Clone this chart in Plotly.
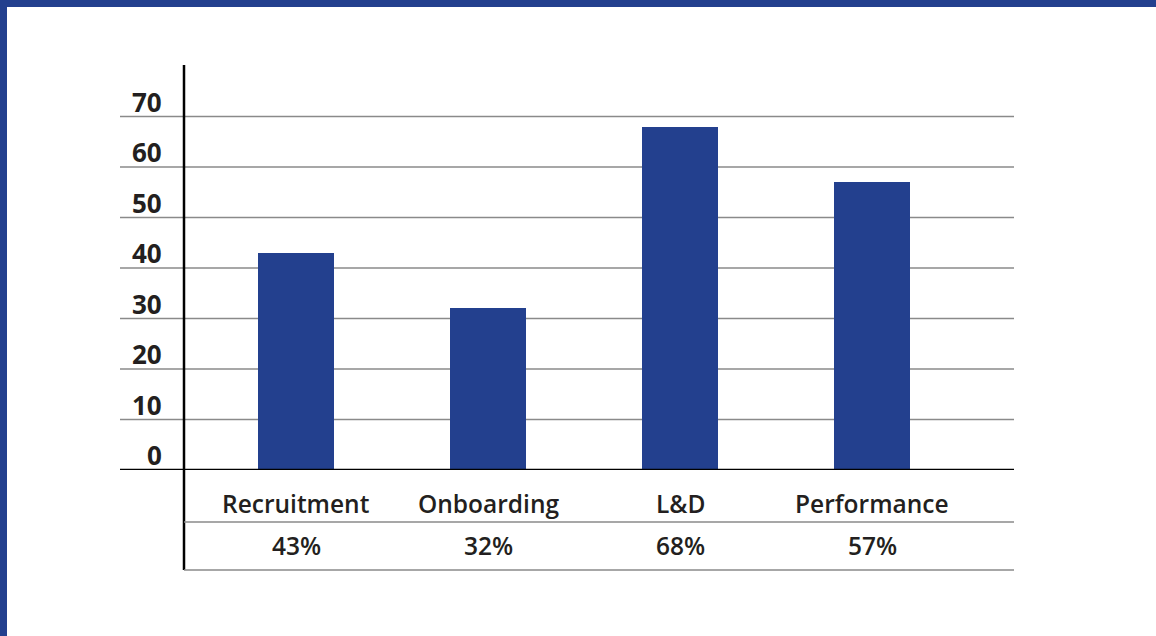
import plotly.graph_objects as go

categories = ["Recruitment", "Onboarding", "L&D", "Performance"]
values = [43, 32, 68, 57]
value_labels = ["43%", "32%", "68%", "57%"]
tick_values = [0, 10, 20, 30, 40, 50, 60, 70]
tick_labels = ["0", "10", "20", "30", "40", "50", "60", "70"]

BLUE = "#23408e"
TEXT = "#231f20"
GRID = "#8a8a8a"

W, H = 1156, 636
ML, MR, MT, MB = 120, 142, 65, 166
PW, PH = W - ML - MR, H - MT - MB
SCALE = 5.05  # px per unit
y_top = PH / SCALE
XU = 192.0
x_left = -(296 - ML) / XU
x_right = x_left + PW / XU

def px_x(px):
    return (px - ML) / PW

def px_y(py):
    return (H - MB - py) / PH

xs = list(range(len(categories)))

fig = go.Figure()
fig.add_trace(go.Bar(x=xs, y=values, width=0.40, marker=dict(color=BLUE, line=dict(width=0)),
                     hoverinfo="skip"))

shapes = []
for v in tick_values[1:]:
    shapes.append(dict(type="line", xref="paper", yref="y", x0=0, x1=1, y0=v, y1=v,
                       line=dict(color=GRID, width=1.5), layer="below"))
shapes.append(dict(type="line", xref="paper", yref="y", x0=0, x1=1, y0=0, y1=0,
                   line=dict(color="#000000", width=2.5), layer="above"))
shapes.append(dict(type="line", xref="paper", yref="paper", x0=px_x(184), x1=px_x(184),
                   y0=px_y(570), y1=px_y(65), line=dict(color="#000000", width=2.5)))
for py in (522, 570):
    shapes.append(dict(type="line", xref="paper", yref="paper", x0=px_x(184), x1=1,
                       y0=px_y(py), y1=px_y(py), line=dict(color=GRID, width=1.5)))
shapes.append(dict(type="rect", xref="paper", yref="paper", x0=px_x(0), x1=px_x(W),
                   y0=px_y(7), y1=px_y(0), fillcolor=BLUE, line=dict(width=0)))
shapes.append(dict(type="rect", xref="paper", yref="paper", x0=px_x(0), x1=px_x(7),
                   y0=px_y(H), y1=px_y(0), fillcolor=BLUE, line=dict(width=0)))

annotations = []
for v, t in zip(tick_values, tick_labels):
    annotations.append(dict(xref="paper", yref="y", x=px_x(164), y=v, yshift=15,
                            text=t, showarrow=False, xanchor="right", yanchor="middle",
                            font=dict(family="Open Sans", size=26, color=TEXT, weight="bold")))
for x, c, lab in zip(xs, categories, value_labels):
    annotations.append(dict(xref="x", yref="paper", x=x, y=px_y(503), text=c, showarrow=False,
                            xanchor="center", yanchor="middle",
                            font=dict(family="Open Sans", size=24.5, color=TEXT, weight=600)))
    annotations.append(dict(xref="x", yref="paper", x=x, y=px_y(545), text=lab, showarrow=False,
                            xanchor="center", yanchor="middle",
                            font=dict(family="Open Sans", size=24.5, color=TEXT, weight=600)))

fig.update_layout(
    width=W, height=H,
    margin=dict(l=ML, r=MR, t=MT, b=MB, pad=0),
    paper_bgcolor="white", plot_bgcolor="white",
    showlegend=False,
    xaxis=dict(range=[x_left, x_right], visible=False, fixedrange=True),
    yaxis=dict(range=[0, y_top], visible=False, fixedrange=True),
    shapes=shapes, annotations=annotations,
    bargap=0,
)

fig.write_html("out.html", config={"displayModeBar": False},
               post_script="document.body.style.margin='0';document.body.style.padding='0';")
